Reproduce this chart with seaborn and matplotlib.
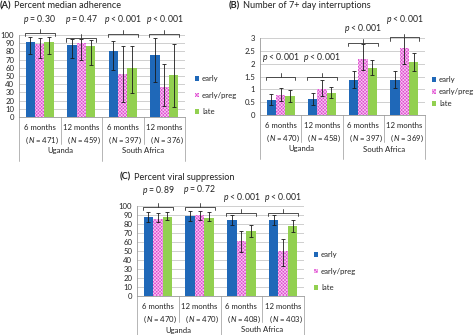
import matplotlib
matplotlib.use('Agg')
import matplotlib.pyplot as plt
import seaborn as sns
import pandas as pd
from matplotlib.transforms import blended_transform_factory
from matplotlib.patches import Patch

# ---------------- data ----------------
groups = ['early', 'early/preg', 'late']
countries = ['Uganda', 'South Africa']
months = ['6 months', '12 months', '6 months', '12 months']

# (A) Percent median adherence
a_n = [471, 459, 397, 376]
a_p = ['= 0.30', '= 0.47', '< 0.001', '< 0.001']
a_early = [92, 88, 81, 75]
a_early_lo = [77, 72, 57, 43]
a_early_hi = [97, 95, 93, 96]
a_preg = [89, 90, 53, 36]
a_preg_lo = [72, 70, 18, 13]
a_preg_hi = [96, 95, 86, 65]
a_late = [92, 87, 60, 51]
a_late_lo = [77, 64, 29, 12]
a_late_hi = [97, 94, 86, 89]

# (B) Number of 7+ day interruptions
b_n = [470, 458, 397, 369]
b_p = ['< 0.001', '< 0.001', '< 0.001', '< 0.001']
b_early = [0.60, 0.63, 1.37, 1.38]
b_early_lo = [0.40, 0.40, 1.05, 1.05]
b_early_hi = [0.80, 0.86, 1.70, 1.70]
b_preg = [0.79, 1.02, 2.20, 2.60]
b_preg_lo = [0.55, 0.75, 1.75, 2.00]
b_preg_hi = [1.05, 1.35, 2.75, 3.25]
b_late = [0.73, 0.87, 1.85, 2.05]
b_late_lo = [0.50, 0.65, 1.55, 1.70]
b_late_hi = [0.97, 1.10, 2.15, 2.42]

# (C) Percent viral suppression
c_n = [470, 470, 408, 403]
c_p = ['= 0.89', '= 0.72', '< 0.001', '< 0.001']
c_early = [88, 89, 84, 85]
c_early_lo = [82, 83, 79, 79]
c_early_hi = [93, 94, 90, 90]
c_preg = [86, 90, 61, 50]
c_preg_lo = [82, 84, 49, 33]
c_preg_hi = [92, 95, 72, 63]
c_late = [88, 87, 72, 78]
c_late_lo = [84, 83, 66, 71]
c_late_hi = [93, 93, 79, 84]

colors = ['#1F68B8', '#E048D2', '#92D050']
HATCH_COLOR = '#F7CFF2'

# ---------------- style ----------------
sns.set_style('white')
plt.rcParams['font.family'] = ['Lato', 'DejaVu Sans']
plt.rcParams['mathtext.fontset'] = 'custom'
plt.rcParams['mathtext.rm'] = 'Lato'
plt.rcParams['mathtext.it'] = 'Lato:italic'
plt.rcParams['hatch.linewidth'] = 0.45
HATCH = 'x' * 10
FS = 5.6
TXT = '#222222'
GRID = '#C8C8C8'

fig = plt.figure(figsize=(4.74, 3.35), dpi=100)
W, H = 474, 335


def px_axes(l, t, r, b):
    return fig.add_axes([l / W, 1 - b / H, (r - l) / W, (b - t) / H])


def draw_panel(ax, title, title_xy, n_list, means, lows, highs, p_list,
               ymax, ystep, brk_y, brk_d, txt_y, long_sep, short_sep,
               country_off, legend_xy, legend_sp):
    cats = [f'c{i}' for i in range(len(n_list))]
    rows = []
    for g, vals in zip(groups, means):
        for c, v in zip(cats, vals):
            rows.append({'cat': c, 'group': g, 'value': v})
    df = pd.DataFrame(rows)
    sns.barplot(data=df, x='cat', y='value', hue='group', order=cats,
                hue_order=groups, palette=colors, width=0.68, errorbar=None,
                saturation=1, linewidth=0, ax=ax, legend=False, zorder=2)
    for k, (cont, m, lo, hi) in enumerate(zip(ax.containers, means, lows, highs)):
        xs = [b.get_x() + b.get_width() / 2 for b in cont]
        if k == 1:
            for b in cont:
                b.set_hatch(HATCH)
                b.set_edgecolor(HATCH_COLOR)
                b.set_linewidth(0)
        ax.errorbar(xs, m, yerr=[[mm - l for mm, l in zip(m, lo)],
                                 [h - mm for mm, h in zip(m, hi)]],
                    fmt='none', ecolor='#1a1a1a', elinewidth=0.6,
                    capsize=1.5, capthick=0.6, zorder=3)
    ax.set_ylim(0, ymax)
    ax.set_xlim(-0.5, len(cats) - 0.5)
    ticks = [i * ystep for i in range(int(round(ymax / ystep)) + 1)]
    ax.set_yticks(ticks)
    ax.set_yticklabels([f'{t:g}' for t in ticks], fontsize=FS, color=TXT)
    ax.yaxis.grid(True, color=GRID, lw=0.6, zorder=0)
    ax.set_axisbelow(True)
    ax.tick_params(axis='y', length=2, width=0.5, color='#999999', pad=1.5)
    ax.tick_params(axis='x', length=0, pad=5)
    for s in ['top', 'right']:
        ax.spines[s].set_visible(False)
    ax.spines['left'].set_color('#999999')
    ax.spines['left'].set_linewidth(0.6)
    ax.spines['bottom'].set_color('#999999')
    ax.spines['bottom'].set_linewidth(0.6)
    ax.set_xlabel('')
    ax.set_ylabel('')
    ax.set_xticks(range(len(cats)))
    ax.set_xticklabels([f'{mo}\n   ($\\mathit{{N}}$ = {n})' for mo, n in zip(months, n_list)],
                       fontsize=FS, color=TXT, linespacing=1.45)
    # separators and country labels
    tr = blended_transform_factory(ax.transData, ax.transAxes)
    hpx = ax.bbox.height
    for xv, ln in [(-0.5, long_sep), (0.5, short_sep), (1.5, long_sep),
                   (2.5, short_sep), (3.5, long_sep)]:
        ax.plot([xv, xv], [0, -ln / hpx], transform=tr, clip_on=False,
                color='#AAAAAA', lw=0.6)
    for ci, cname in enumerate(countries):
        ax.annotate(cname, xy=(2 * ci + 0.5, 0), xycoords=tr,
                    xytext=(0, -country_off * 0.72), textcoords='offset points',
                    ha='center', va='center', fontsize=FS, color=TXT,
                    annotation_clip=False)
    # brackets
    for i, (yb, yt, p) in enumerate(zip(brk_y, txt_y, p_list)):
        x0, x1 = i - 0.36, i + 0.36
        ax.plot([x0, x0, x1, x1], [yb - brk_d, yb, yb, yb - brk_d],
                clip_on=False, color='#333333', lw=0.6)
        ax.plot([i, i], [yb, yb + brk_d * 1.2], clip_on=False,
                color='#333333', lw=0.6)
        ax.text(i, yt, f'$\\mathit{{p}}$ {p}', ha='center', va='center',
                fontsize=FS + 0.6, color=TXT, clip_on=False)
    # title
    lab, rest = title
    fig.text(title_xy[0] / W, 1 - title_xy[1] / H, lab, fontsize=FS + 1.0,
             fontweight='bold', color=TXT, va='center', ha='left')
    fig.text((title_xy[0] + 14) / W, 1 - title_xy[1] / H, rest,
             fontsize=FS + 1.0, color=TXT, va='center', ha='left')
    # legend
    handles = [Patch(facecolor=colors[0], edgecolor='none'),
               Patch(facecolor=colors[1], edgecolor=HATCH_COLOR, hatch=HATCH, lw=0),
               Patch(facecolor=colors[2], edgecolor='none')]
    fig.legend(handles, groups, loc='upper left',
               bbox_to_anchor=(legend_xy[0] / W, 1 - legend_xy[1] / H),
               frameon=False, fontsize=FS, handlelength=0.55, handleheight=0.55,
               handletextpad=0.35, labelspacing=legend_sp, borderpad=0,
               borderaxespad=0)


axA = px_axes(19, 35, 185, 117)
draw_panel(axA, ('(A)', 'Percent median adherence'), (0, 6), a_n,
           [a_early, a_preg, a_late], [a_early_lo, a_preg_lo, a_late_lo],
           [a_early_hi, a_preg_hi, a_late_hi], a_p, 100, 10,
           [103, 96, 101, 101], 4, [119.5, 119.5, 119.5, 119.5],
           44, 27, 34, (195, 75), 1.25)

axB = px_axes(260, 38, 425, 115)
draw_panel(axB, ('(B)', 'Number of 7+ day interruptions'), (229, 6), b_n,
           [b_early, b_preg, b_late], [b_early_lo, b_preg_lo, b_late_lo],
           [b_early_hi, b_preg_hi, b_late_hi], b_p, 3, 0.5,
           [1.48, 1.48, 2.8, 3.02], 0.12, [2.23, 2.23, 3.36, 3.72],
           44, 27, 34, (432, 76), 0.65)

axC = px_axes(137, 206, 304, 296)
draw_panel(axC, ('(C)', 'Percent viral suppression'), (120, 177), c_n,
           [c_early, c_preg, c_late], [c_early_lo, c_preg_lo, c_late_lo],
           [c_early_hi, c_preg_hi, c_late_hi], c_p, 100, 10,
           [99, 99, 92.5, 92.5], 3.5, [117.5, 118, 110, 109],
           40, 26, 34, (314, 251), 1.25)

fig.savefig('out.png', dpi=100)
